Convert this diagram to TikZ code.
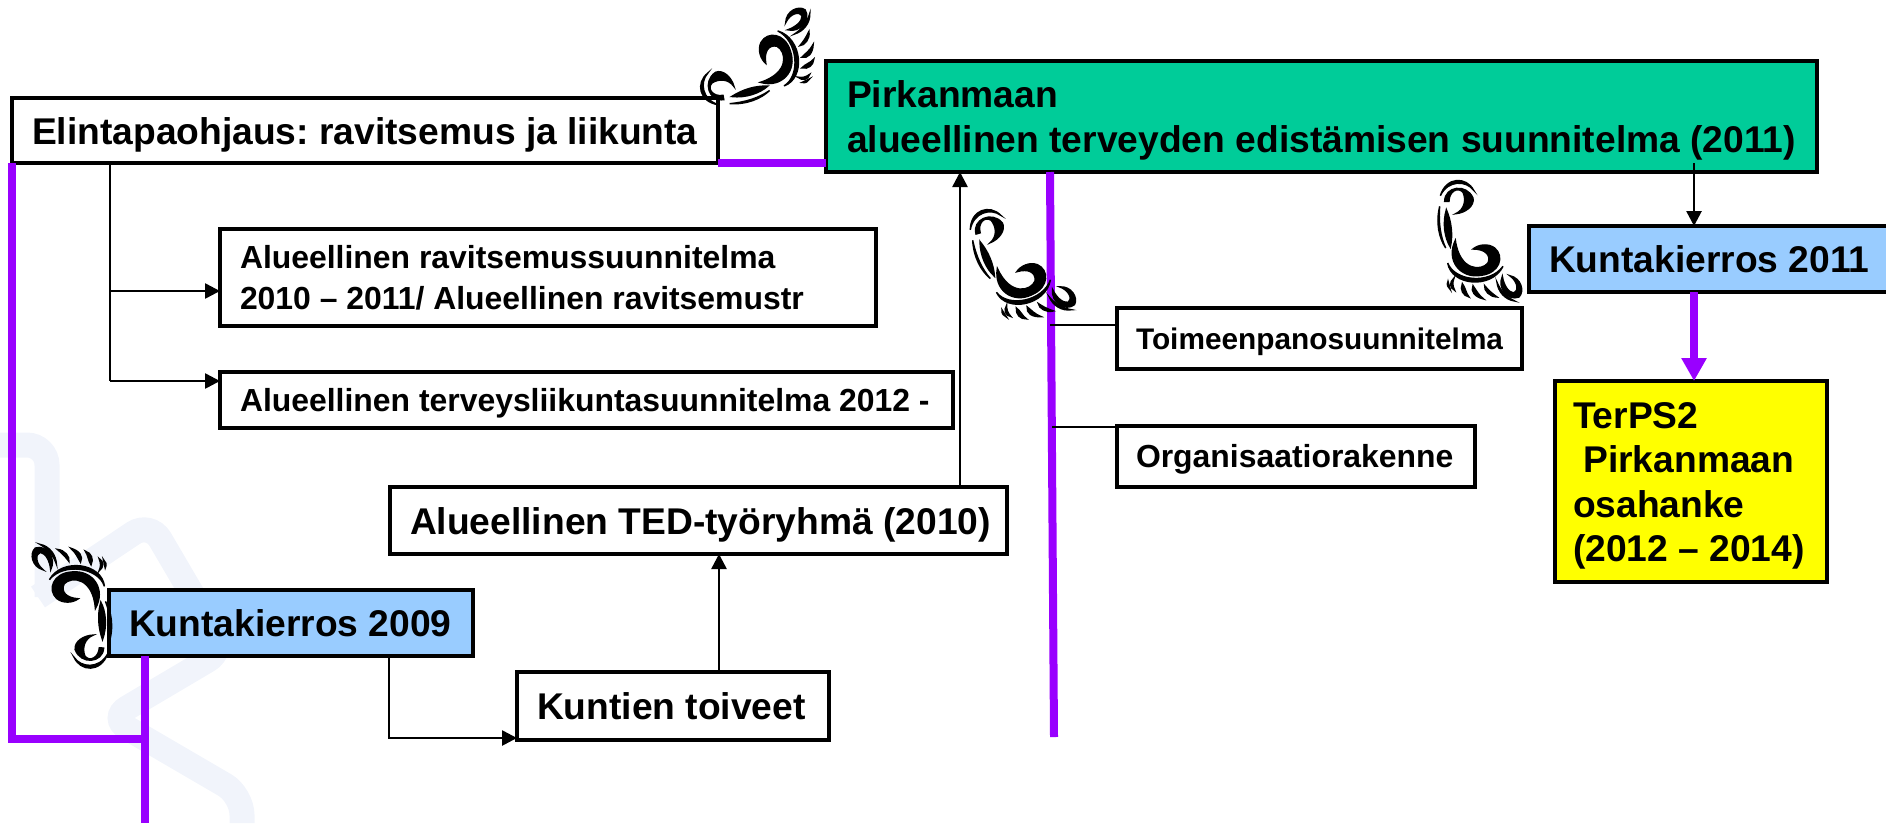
\documentclass[tikz,border=0pt]{standalone}
\usepackage{fontspec}
\setmainfont{Liberation Sans}
\usetikzlibrary{arrows.meta}
\frenchspacing
\definecolor{vio}{HTML}{9900FF}
\definecolor{grn}{HTML}{00CC99}
\definecolor{sky}{HTML}{99CCFF}
\definecolor{ylw}{HTML}{FFFF00}
\definecolor{wm}{HTML}{F1F4FB}
\newcommand{\fitw}[2]{\makebox[#1pt][l]{#2}}
\tikzset{
 box/.style={draw=black,line width=3.2pt,fill=white,anchor=north west,align=left,inner sep=0pt,outer sep=0pt,text height=27pt,text depth=0pt,font=\bfseries\fontsize{37.2}{44.4}\selectfont},
 small/.style={text height=23pt,font=\bfseries\fontsize{31.9}{41}\selectfont},
 smaller/.style={text height=22pt,font=\bfseries\fontsize{29.8}{41}\selectfont},
 vline/.style={draw=vio,line width=8pt},
 thin/.style={draw=black,line width=2.6pt},
 arr/.style={thin,-{Triangle[length=15pt,width=15pt]}},
 ft/.style={fill=black,draw=black,line width=1.4pt},
 pics/foot/.style={code={
  \begin{scope}[scale=0.3333,shift={(-175,-205)}]
  \filldraw[ft] (105,125) .. controls (105,80) and (170,70) .. (190,115) .. controls (195,140) and (165,160) .. (138,162) .. controls (165,150) and (170,120) .. (160,98) .. controls (145,80) and (118,95) .. (118,125) -- cycle;
  \filldraw[ft] (92,108) .. controls (110,50) and (170,50) .. (192,92) .. controls (170,62) and (115,60) .. (92,108) -- cycle;
  \filldraw[ft] (110,150) .. controls (98,190) and (105,235) .. (122,262) .. controls (130,225) and (125,185) .. (110,150) -- cycle;
  \filldraw[ft] (90,140) .. controls (78,190) and (88,235) .. (108,265) .. controls (92,230) and (86,190) .. (90,140) -- cycle;
  \filldraw[ft] (137,242) .. controls (108,300) and (150,358) .. (215,347) .. controls (270,340) and (285,290) .. (255,265) .. controls (235,250) and (205,255) .. (190,268) .. controls (225,268) and (245,285) .. (235,310) .. controls (215,335) and (150,335) .. (137,242) -- cycle;
  \filldraw[ft] (114,310) .. controls (125,378) and (245,390) .. (280,320) .. controls (240,375) and (135,365) .. (114,310) -- cycle;
  \filldraw[ft] (133,355) .. controls (118,368) and (120,385) .. (135,392) .. controls (128,378) and (128,368) .. (133,355) -- cycle;
  \filldraw[ft] (115,365) .. controls (110,375) and (115,385) .. (122,390) .. controls (118,380) and (118,372) .. (115,365) -- cycle;
  \filldraw[ft] (158,372) .. controls (150,390) and (160,408) .. (178,412) .. controls (168,400) and (168,385) .. (158,372) -- cycle;
  \filldraw[ft] (190,378) .. controls (182,395) and (195,412) .. (222,418) .. controls (205,405) and (200,392) .. (190,378) -- cycle;
  \filldraw[ft] (225,378) .. controls (222,392) and (240,412) .. (262,412) .. controls (245,400) and (235,390) .. (225,378) -- cycle;
  \filldraw[ft] (278,350) .. controls (262,385) and (295,425) .. (328,412) .. controls (345,395) and (335,355) .. (300,348) .. controls (325,365) and (328,395) .. (312,400) .. controls (295,398) and (282,375) .. (278,350) -- cycle;
  \filldraw[ft] (262,368) .. controls (265,395) and (285,420) .. (315,424) .. controls (290,412) and (272,392) .. (262,368) -- cycle;
  \end{scope}}}
}
\begin{document}
\begin{tikzpicture}[x=1pt,y=-1pt]
\useasboundingbox (0,0) rectangle (1886,823);
% watermark
\begin{scope}[wm,line width=25pt,rounded corners=20pt]
\draw (0,445) -- (47,445) -- (47,597);
\draw (38,597) -- (150,522) -- (225,650) -- (110,718) -- (242,795) -- (242,823);
\end{scope}
% boxes
\node[box,minimum height=65pt,inner xsep=20pt] (el) at (12,98) {\fitw{666}{Elintapaohjaus: ravitsemus ja liikunta}};
\node[box,fill=grn,minimum height=111pt,inner xsep=21pt,text height=71.4pt] (gr) at (826,61) {\fitw{949}{Pirkanmaan}\\alueellinen terveyden edistämisen suunnitelma (2011)};
\node[box,small,minimum height=97pt,inner xsep=20pt,text height=64pt] (ra) at (220,229) {\fitw{616}{Alueellinen ravitsemussuunnitelma}\\2010 – 2011/ Alueellinen ravitsemustr};
\node[box,small,minimum height=56pt,inner xsep=20pt] (te) at (220,372) {\fitw{693}{Alueellinen terveysliikuntasuunnitelma 2012 -}};
\node[box,minimum height=67pt,inner xsep=20pt] (ted) at (390,487) {\fitw{577}{Alueellinen TED-työryhmä (2010)}};
\node[box,fill=sky,minimum height=66pt,inner xsep=20pt] (k9) at (109,590) {\fitw{324}{Kuntakierros 2009}};
\node[box,minimum height=68pt,inner xsep=20pt] (ku) at (517,672) {\fitw{272}{Kuntien toiveet}};
\node[box,smaller,minimum height=61pt,inner xsep=19pt] (to) at (1117,308) {\fitw{367}{Toimeenpanosuunnitelma}};
\node[box,smaller,minimum height=61pt,inner xsep=19pt] (or) at (1117,426) {\fitw{320}{\fontsize{31.9}{41}\selectfont Organisaatiorakenne}};
\node[box,fill=sky,minimum height=66pt,inner xsep=20pt] (k1) at (1529,226) {\fitw{320}{Kuntakierros 2011}};
\node[box,fill=ylw,minimum height=201pt,inner xsep=18pt,text height=160.2pt] (ts) at (1555,381) {\fitw{236}{TerPS2}\\ \ Pirkanmaan\\osahanke\\(2012 – 2014)};
% junction coordinates
\coordinate (a) at (12,163);
\coordinate (b) at (12,739);
\coordinate (c) at (145,739);
\coordinate (d) at (145,823);
\coordinate (e) at (1054,737);
\coordinate (p) at (1050,325);
\coordinate (q) at (1052,427);
\coordinate (r) at (110,291);
\coordinate (s) at (110,381);
\coordinate (g) at (1694,163);
% purple
\draw[vline] (el.south east) -- (gr.south west |- el.south);
\draw[vline] (a) -- (b) -- (c);
\draw[vline] (c |- k9.south) -- (d);
\draw[vline] (1050,172) -- (e);
\draw[vline,-{Triangle[length=23pt,width=24pt]}] (k1.south -| g) -- (ts.north -| g);
% black
\draw[thin] (110,163) -- (s);
\draw[arr] (r) -- (ra.west |- r);
\draw[arr] (s) -- (te.west |- s);
\draw[arr] (ted.north -| 960,0) -- (gr.south -| 960,0);
\draw[arr] (ku.north -| 719,0) -- (ted.south -| 719,0);
\draw[arr] (k9.south -| 389,0) -- (389,738) -- (ku.west |- 0,738);
\draw[arr] (g) -- (k1.north -| g);
\draw[thin] (p) -- (to.west |- p);
\draw[thin] (q) -- (or.west |- q);
% feet
\pic at (1468,228) {foot};
\pic[rotate=100] at (746,72) {foot};
\pic[rotate=16.5] at (1006,253) {foot};
\pic[rotate=176.5] at (82,620) {foot};
\end{tikzpicture}
\end{document}
